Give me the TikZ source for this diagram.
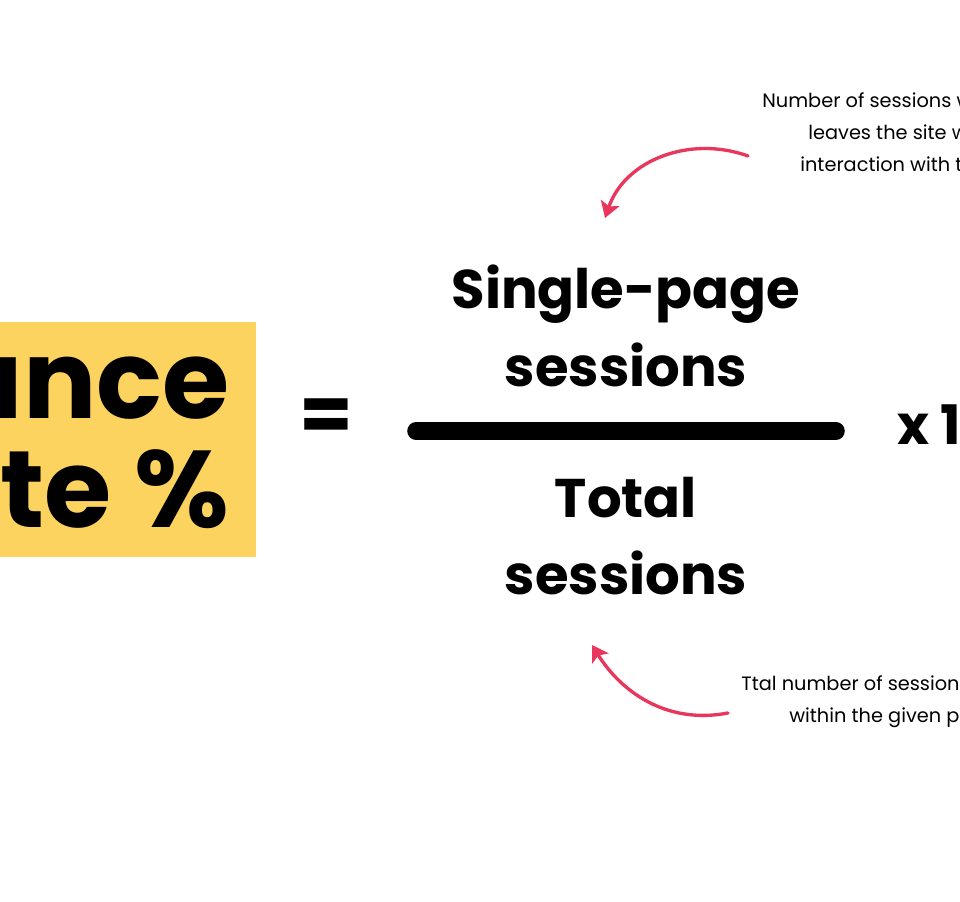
\documentclass[tikz,border=0pt]{standalone}
\usepackage{fontspec}
\setmainfont{Poppins}
\usetikzlibrary{arrows.meta}
\definecolor{boxyellow}{HTML}{FDD35F}
\definecolor{arrowred}{HTML}{E8365D}
\tikzset{big/.style={font=\fontsize{62}{74}\selectfont\bfseries, inner sep=0pt},
  frac/.style={font=\fontsize{31}{37}\selectfont\bfseries, inner sep=0pt, anchor=base},
  note/.style={font=\fontsize{11}{14}\selectfont, inner sep=0pt, anchor=base west},
  curl/.style={arrowred, line width=1.9pt, line cap=round, -{Stealth[length=9pt,width=11pt,inset=2pt]}}}
\begin{document}
\begin{tikzpicture}[x=0.02cm,y=-0.02cm]
\useasboundingbox (0,0) rectangle (960,902);
\clip (0,0) rectangle (960,902);
\fill[white] (0,0) rectangle (960,902);

\fill[boxyellow] (-10,322) rectangle (256,557);
\node (bounce) [big, anchor=base east] at (230,418) {Bounce};
\node (rate) [big, anchor=base east] at (230,527) {Rate \%};

\node (eq) [font=\fontsize{44}{50}\selectfont\bfseries, inner sep=0pt] at (326,420) {=};
\coordinate (barl) at (416,431);
\coordinate (barr) at (836,431);
\draw[line width=10pt, line cap=round] (barl) -- (barr);

\node (num1) [frac] at (626,308) {Single-page};
\node (num2) [frac] at (626,386) {sessions};
\node (den1) [frac] at (626,517) {Total};
\node (den2) [frac] at (626,594) {sessions};
\node (times) [frac, anchor=base west] at (897,444) {x 100};

\node (top1) [note] at (762,108) {Number of sessions where a user};
\node (top2) [note] at (808,140) {leaves the site without};
\node (top3) [note] at (800,172) {interaction with the page};
\node (bot1) [note] at (741,690) {Ttal number of sessions};
\node (bot2) [note] at (789,722) {within the given period};

\coordinate (ta) at (748,156);
\coordinate (tb) at (605,218);
\coordinate (ba) at (728,713);
\coordinate (bb) at (592,645);
\draw[curl] (ta) .. controls (690,135) and (625,160) .. (tb);
\draw[curl] (ba) .. controls (665,725) and (620,690) .. (bb);
\end{tikzpicture}
\end{document}
